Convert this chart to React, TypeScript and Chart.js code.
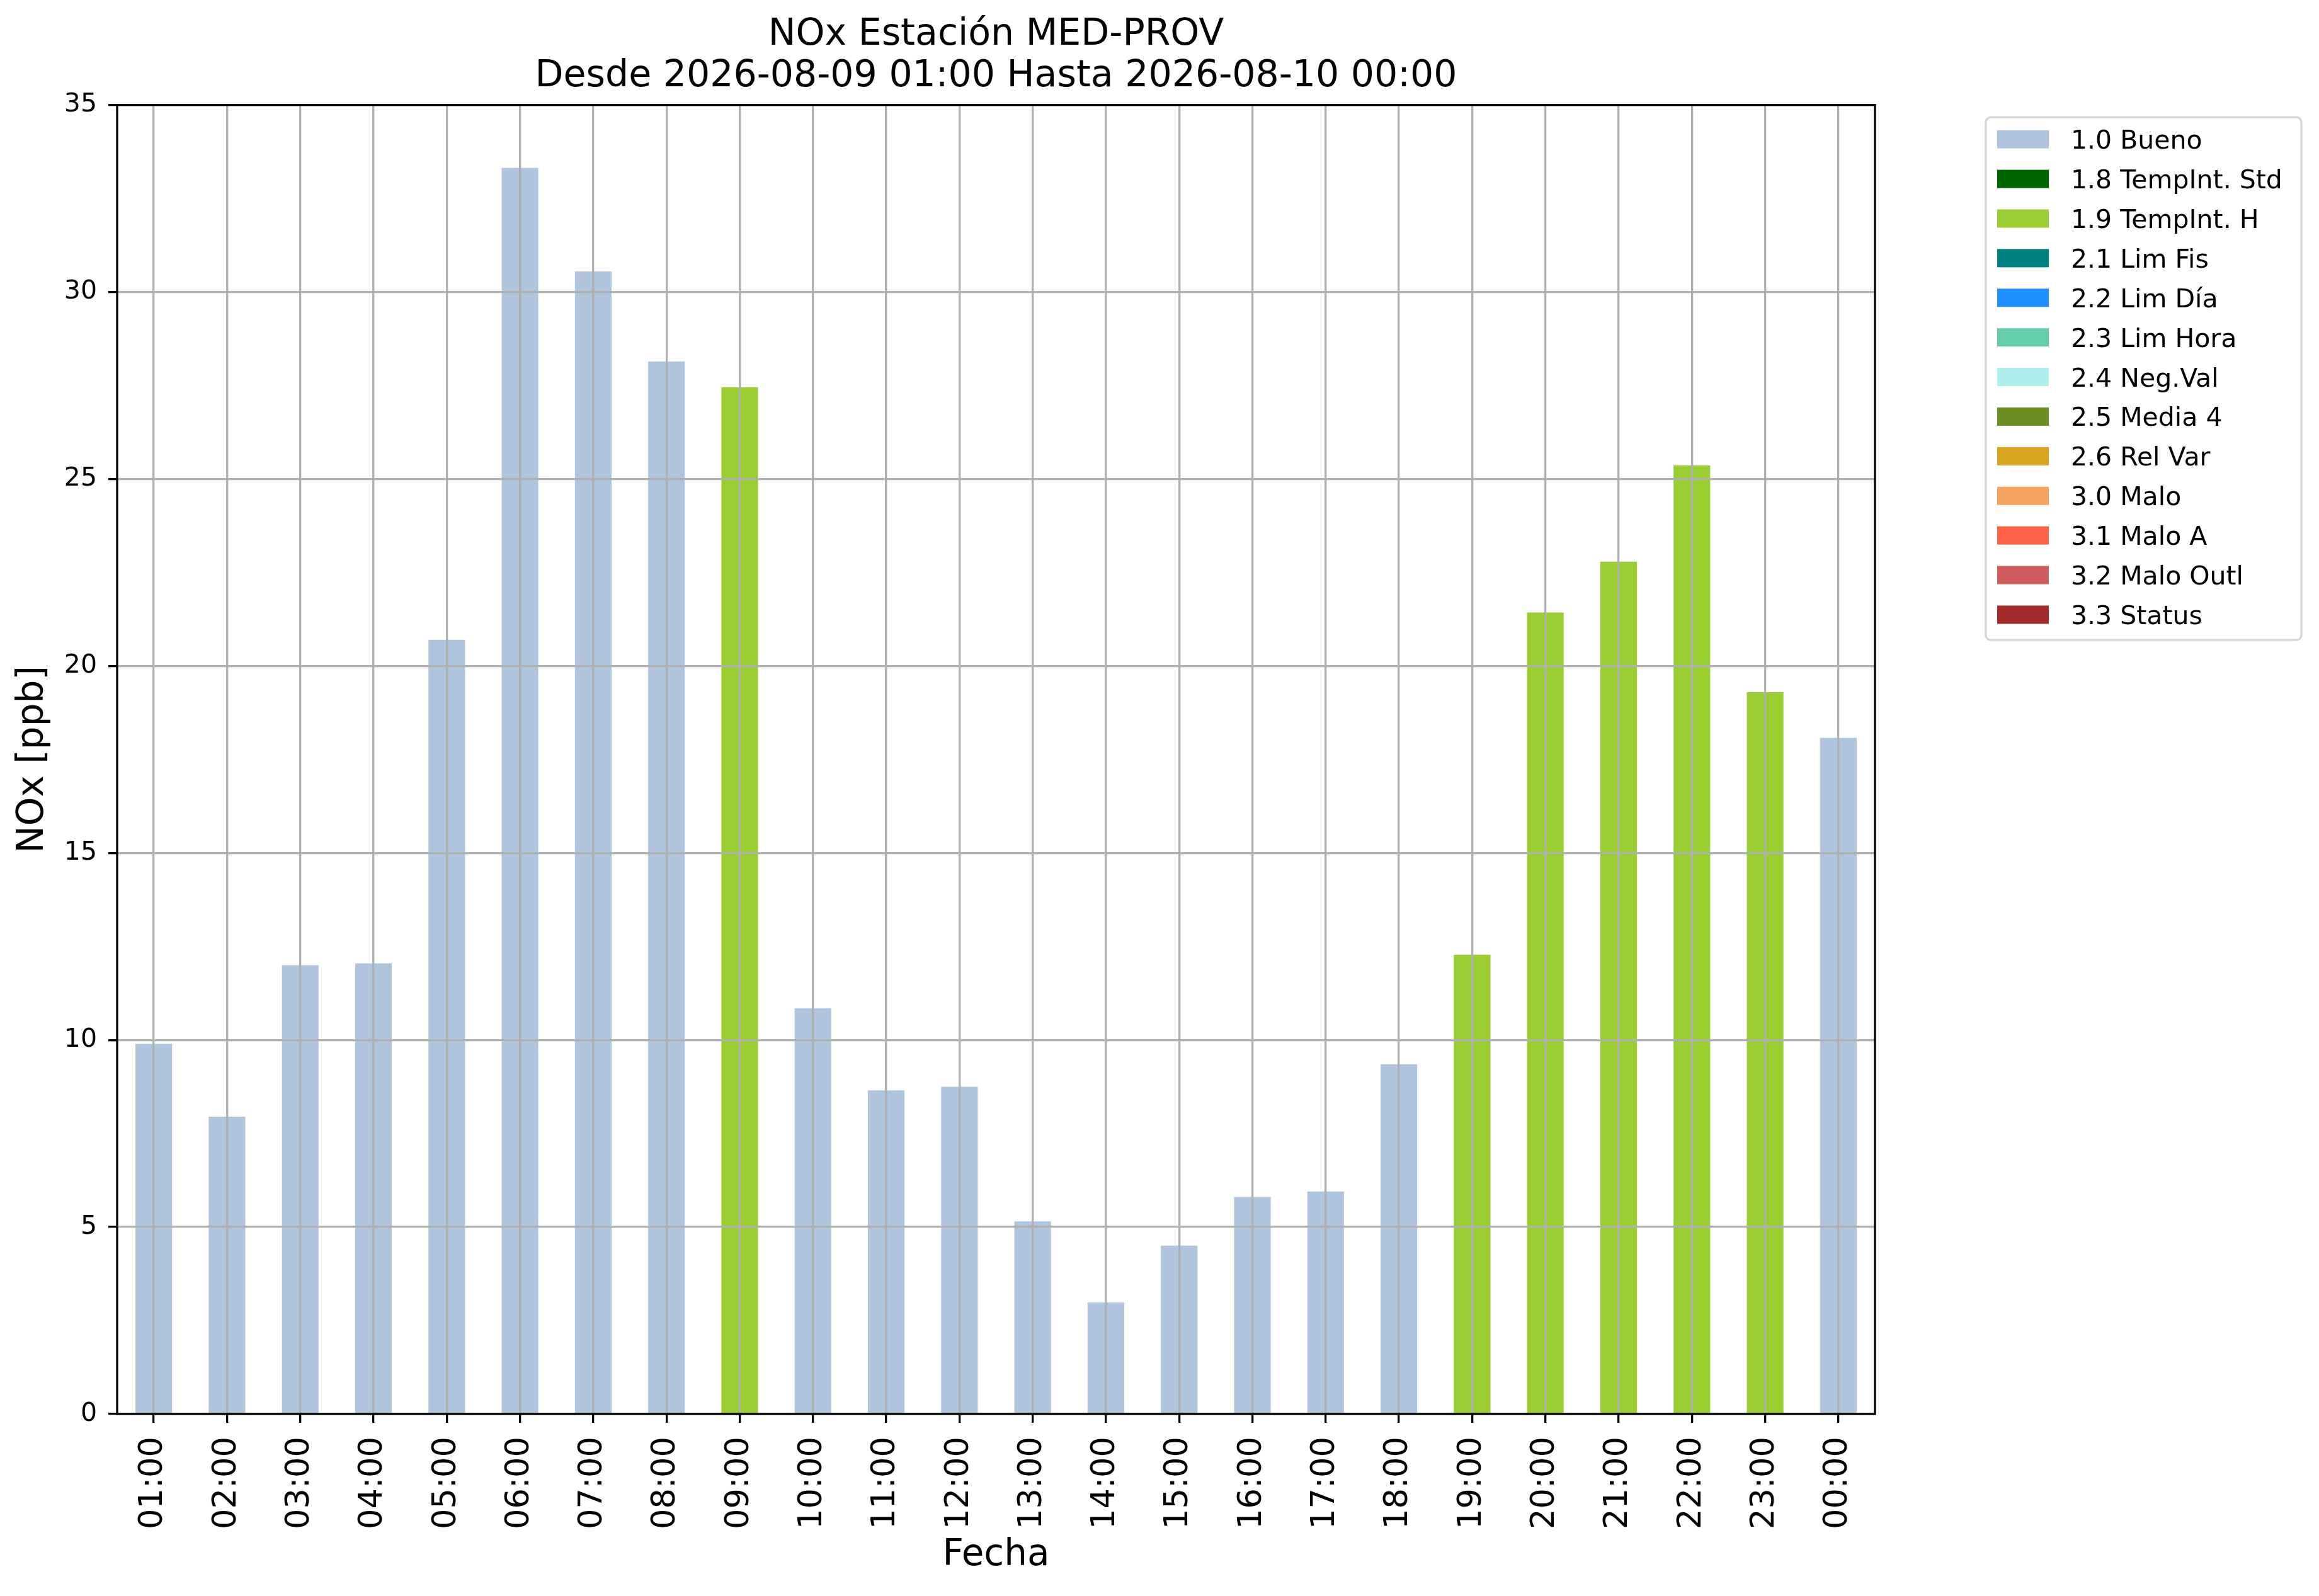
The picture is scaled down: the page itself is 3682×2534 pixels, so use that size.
import { useEffect, useRef } from 'react';
import { Chart, registerables } from 'chart.js';

Chart.register(...registerables);

const hours = [
  '01:00', '02:00', '03:00', '04:00', '05:00', '06:00', '07:00', '08:00',
  '09:00', '10:00', '11:00', '12:00', '13:00', '14:00', '15:00', '16:00',
  '17:00', '18:00', '19:00', '20:00', '21:00', '22:00', '23:00', '00:00',
];

// NOx [ppb] by validation flag (null = hour belongs to another flag)
const bueno = [
  9.9, 7.95, 12.0, 12.05, 20.7, 33.32, 30.55, 28.14,
  null, 10.85, 8.65, 8.75, 5.15, 2.98, 4.5, 5.8,
  5.95, 9.35, null, null, null, null, null, 18.08,
];
const tempIntH = [
  null, null, null, null, null, null, null, null,
  27.45, null, null, null, null, null, null, null,
  null, null, 12.28, 21.43, 22.79, 25.36, 19.3, null,
];
const noData: (number | null)[] = [];

const flagLabels = [
  '1.0 Bueno', '1.8 TempInt. Std', '1.9 TempInt. H', '2.1 Lim Fis', '2.2 Lim Día',
  '2.3 Lim Hora', '2.4 Neg.Val', '2.5 Media 4', '2.6 Rel Var', '3.0 Malo',
  '3.1 Malo A', '3.2 Malo Outl', '3.3 Status',
];
const flagColors = [
  '#b0c4de', '#006400', '#9acd32', '#008080', '#1e90ff',
  '#66cdaa', '#afeeee', '#6b8e23', '#daa520', '#f4a460',
  '#ff6347', '#cd5c5c', '#a52a2a',
];
const flagSeries = [
  bueno, noData, tempIntH, noData, noData,
  noData, noData, noData, noData, noData,
  noData, noData, noData,
];

const yTicks = [0, 5, 10, 15, 20, 25, 30, 35];
const titleLines = ['NOx Estación MED-PROV', 'Desde 2026-08-09 01:00 Hasta 2026-08-10 00:00'];

const FONT = '"DejaVu Sans"';

// axes box + framed legend, drawn like matplotlib
const framePlugin = {
  id: 'mplFrame',
  afterDraw(chart: Chart) {
    const { ctx, chartArea: a } = chart;
    ctx.save();
    ctx.strokeStyle = '#000';
    ctx.lineWidth = 3.3;
    ctx.strokeRect(a.left, a.top, a.right - a.left, a.bottom - a.top);

    const fx = a.right + 176;
    const fy = a.top + 19.5;
    ctx.beginPath();
    ctx.roundRect(fx, fy, 501, 830, 8);
    ctx.fillStyle = 'rgba(255,255,255,0.8)';
    ctx.fill();
    ctx.strokeStyle = '#d6d6d6';
    ctx.lineWidth = 3.3;
    ctx.stroke();

    ctx.font = `41px ${FONT}`;
    ctx.textBaseline = 'alphabetic';
    ctx.textAlign = 'left';
    chart.data.datasets.forEach((ds, i) => {
      const cy = fy + 35 + i * 62.9;
      ctx.fillStyle = ds.backgroundColor as string;
      ctx.fillRect(fx + 18, cy - 14.5, 82, 29);
      ctx.fillStyle = '#000';
      ctx.fillText(ds.label ?? '', fx + 135, cy + 15);
    });
    ctx.restore();
  },
};

const NoxChart = () => {
  const canvasRef = useRef<HTMLCanvasElement>(null);

  useEffect(() => {
    const canvas = canvasRef.current;
    if (!canvas) return;
    const ctx = canvas.getContext('2d');
    if (!ctx) return;

    Chart.defaults.font.family = FONT;
    Chart.defaults.color = '#000';

    const gridOpts = {
      z: 1,
      color: '#b0b0b0',
      lineWidth: 3.3,
      tickColor: '#000',
      tickWidth: 3.3,
      tickLength: 14,
    };

    const chart = new Chart(ctx, {
      type: 'bar',
      data: {
        labels: hours,
        datasets: flagLabels.map((label, i) => ({
          label,
          data: flagSeries[i],
          backgroundColor: flagColors[i],
          borderWidth: 0,
          barPercentage: 0.5,
          categoryPercentage: 1.0,
        })),
      },
      options: {
        animation: false,
        responsive: false,
        layout: { padding: { left: 0, right: 705, top: 0, bottom: 0 } },
        plugins: {
          legend: { display: false },
          tooltip: { enabled: false },
          title: {
            display: true,
            fullSize: false,
            text: titleLines,
            color: '#000',
            font: { size: 58.5, weight: 'normal', lineHeight: 1.128 },
            padding: { top: 23, bottom: 11.7 },
          },
        },
        scales: {
          x: {
            stacked: true,
            grid: { ...gridOpts, offset: false },
            border: { display: false },
            ticks: {
              autoSkip: false,
              minRotation: 90,
              maxRotation: 90,
              color: '#000',
              padding: 22,
              font: { size: 51 },
            },
            title: {
              display: true,
              text: 'Fecha',
              color: '#000',
              font: { size: 58 },
              padding: { top: 0, bottom: 29 },
            },
            afterFit: (s) => {
              s.height = 289;
            },
          },
          y: {
            stacked: true,
            min: 0,
            max: 35,
            afterBuildTicks: (s) => {
              s.ticks = yTicks.map((v) => ({ value: v }));
            },
            grid: gridOpts,
            border: { display: false },
            ticks: {
              color: '#000',
              padding: 18,
              font: { size: 41 },
            },
            title: {
              display: true,
              text: 'NOx [ppb]',
              color: '#000',
              font: { size: 58 },
              padding: { top: 18, bottom: 0 },
            },
            afterFit: (s) => {
              s.width = 186;
            },
          },
        },
      },
      plugins: [framePlugin],
    });

    return () => {
      chart.destroy();
    };
  }, []);

  return (
    <canvas
      ref={canvasRef}
      width={3682}
      height={2534}
      style={{ position: 'absolute', left: 0, top: 0, display: 'block' }}
    ></canvas>
  );
};

export default function App() {
  return <NoxChart />;
}
